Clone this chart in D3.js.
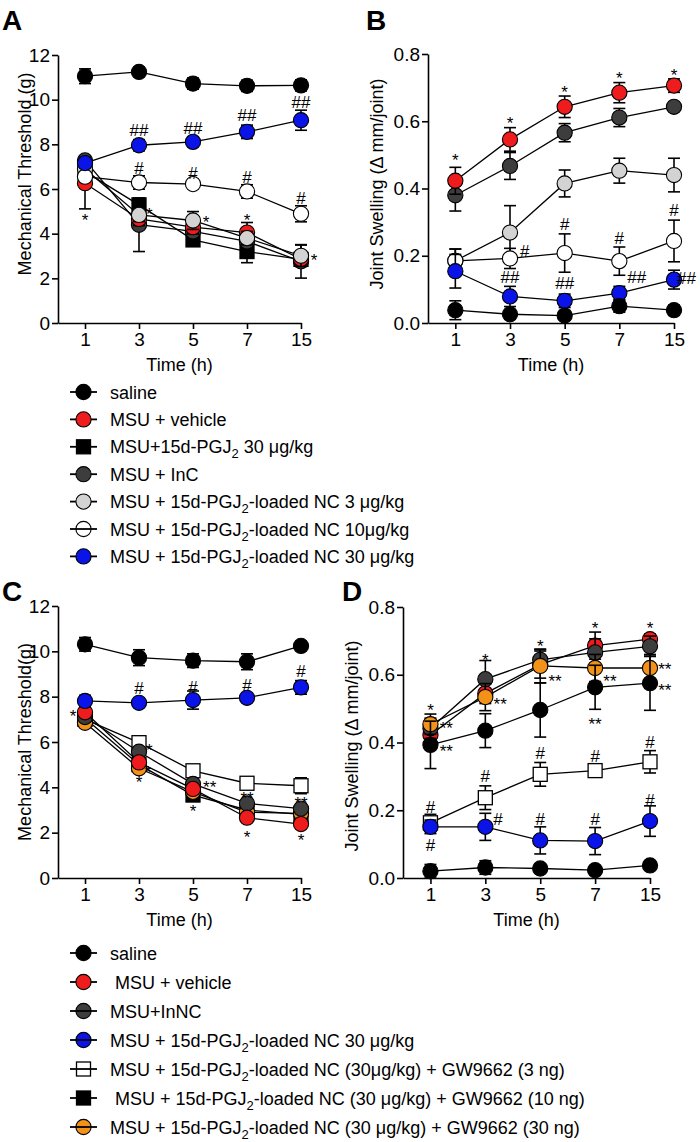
<!DOCTYPE html>
<html>
<head>
<meta charset="utf-8">
<script src="https://cdn.jsdelivr.net/npm/d3@7"></script>
<style>
body { margin: 0; background: #fff; }
svg text { font-family: Arial, "Liberation Sans", sans-serif; fill: #000; white-space: pre; }
</style>
</head>
<body>
<svg id="fig" width="700" height="1142"></svg>
<script>
// time points (x categories)
var times = ["1", "3", "5", "7", "15"];

// ---- panel A : mechanical threshold (g)
var salineA = [11.05, 11.24, 10.72, 10.62, 10.64], salineAErr = [0.33, 0.05, 0.25, 0.25, 0.25];
var vehicleA = [6.26, 4.66, 4.29, 4.05, 2.86], vehicleAErr = [1.15, 0.3, 0.3, 0.45, 0.2];
var pgjA = [6.78, 5.29, 3.72, 3.2, 2.85], pgjAErr = [0.3, 0.26, 0.26, 0.5, 0.2];
var incA = [7.28, 4.4, 4.1, 3.65, 2.76], incAErr = [0.2, 1.2, 0.3, 0.3, 0.75];
var nc3A = [6.9, 4.84, 4.59, 3.8, 3.01], nc3AErr = [0.3, 0.3, 0.4, 0.3, 0.48];
var nc10A = [6.55, 6.29, 6.22, 5.89, 4.89], nc10AErr = [0.2, 0.3, 0.1, 0.3, 0.36];
var nc30A = [7.16, 7.96, 8.11, 8.56, 9.08], nc30AErr = [0.15, 0.25, 0.1, 0.3, 0.45];

// ---- panel B : joint swelling
var salineB = [0.038, 0.026, 0.022, 0.05, 0.038], salineBErr = [0.028, 0.005, 0.005, 0.018, 0.015];
var vehicleB = [0.423, 0.546, 0.643, 0.685, 0.706], vehicleBErr = [0.04, 0.035, 0.032, 0.03, 0.02];
var incB = [0.38, 0.467, 0.566, 0.611, 0.643], incBErr = [0.047, 0.04, 0.027, 0.027, 0.005];
var nc3B = [0.185, 0.269, 0.415, 0.453, 0.44], nc3BErr = [0.035, 0.08, 0.04, 0.037, 0.05];
var nc10B = [0.185, 0.192, 0.208, 0.184, 0.244], nc10BErr = [0.035, 0.03, 0.057, 0.042, 0.062];
var nc30B = [0.154, 0.079, 0.066, 0.089, 0.129], nc30BErr = [0.05, 0.03, 0.02, 0.02, 0.028];

// ---- panel C : mechanical threshold (g)
var salineC = [10.31, 9.72, 9.59, 9.54, 10.24], salineCErr = [0.3, 0.35, 0.3, 0.35, 0.05];
var vehicleC = [7.31, 5.1, 3.93, 2.66, 2.38], vehicleCErr = [0.1, 0.1, 0.1, 0.1, 0.1];
var inncC = [7.1, 5.57, 4.15, 3.29, 3.06], inncCErr = [0.1, 0.1, 0.1, 0.1, 0.1];
var nc30C = [7.81, 7.73, 7.85, 7.95, 8.41], nc30CErr = [0.25, 0.05, 0.4, 0.1, 0.3];
var gw3C = [7.0, 5.97, 4.73, 4.18, 4.07], gw3CErr = [0.1, 0.1, 0.2, 0.1, 0.35];
var gw10C = [7.05, 5.0, 3.66, 3.0, 2.81], gw10CErr = [0.1, 0.1, 0.1, 0.1, 0.1];
var gw30C = [6.85, 4.84, 3.8, 2.9, 2.85], gw30CErr = [0.1, 0.1, 0.1, 0.1, 0.1];

// ---- panel D : joint swelling
var salineD = [0.02, 0.031, 0.028, 0.023, 0.037], salineDErr = [0.02, 0.02, 0.005, 0.005, 0.005];
var vehicleD = [0.422, 0.545, 0.63, 0.686, 0.705], vehicleDErr = [0.03, 0.03, 0.04, 0.04, 0.015];
var inncD = [0.442, 0.587, 0.644, 0.666, 0.684], inncDErr = [0.03, 0.055, 0.03, 0.04, 0.03];
var nc30D = [0.151, 0.151, 0.111, 0.109, 0.168], nc30DErr = [0.02, 0.04, 0.04, 0.04, 0.045];
var gw3D = [0.163, 0.237, 0.306, 0.317, 0.343], gw3DErr = [0.025, 0.035, 0.035, 0.01, 0.033];
var gw10D = [0.393, 0.435, 0.496, 0.563, 0.575], gw10DErr = [0.07, 0.05, 0.08, 0.065, 0.08];
var gw30D = [0.454, 0.534, 0.626, 0.62, 0.62], gw30DErr = [0.03, 0.04, 0.05, 0.04, 0.04];

// significance marks: [x index, y value, text]
var notesA = [[0, 4.77, "*"], [1.19, 5.02, "*"], [2.24, 4.66, "*"], [3, 4.75, "*"], [4.24, 2.97, "*"],
  [1, 6.95, "#"], [2, 6.72, "#"], [3, 6.54, "#"], [4, 5.6, "#"],
  [1, 8.64, "##"], [2, 8.73, "##"], [3, 9.31, "##"], [4, 9.9, "##"]];
var notesB = [[0, 0.494, "*"], [1, 0.604, "*"], [2, 0.696, "*"], [3, 0.738, "*"], [4, 0.747, "*"],
  [1.27, 0.214, "#"], [2, 0.295, "#"], [3, 0.253, "#"], [4, 0.336, "#"],
  [1, 0.137, "##"], [2, 0.119, "##"], [3.32, 0.137, "##"], [4.23, 0.134, "##"]];
var notesC = [[-0.22, 7.28, "*"], [1.19, 5.78, "*"], [1.17, 4.85, "*"], [1, 4.37, "*"], [2.31, 4.19, "**"],
  [2, 3.13, "*"], [3, 3.7, "**"], [3, 1.98, "*"], [4, 3.48, "**"], [4, 1.85, "*"],
  [1, 8.38, "#"], [2, 8.43, "#"], [3, 8.51, "#"], [4, 9.13, "#"]];
var notesD = [[0, 0.505, "*"], [0.29, 0.452, "**"], [0.29, 0.384, "**"], [1, 0.655, "*"], [1.27, 0.523, "**"],
  [2, 0.694, "*"], [2.27, 0.593, "**"], [3, 0.747, "*"], [3.27, 0.593, "**"], [3, 0.466, "**"],
  [4, 0.747, "*"], [4.27, 0.626, "**"], [4.27, 0.566, "**"],
  [0, 0.21, "#"], [0, 0.097, "#"], [1, 0.301, "#"], [1.23, 0.174, "#"], [2, 0.369, "#"], [3, 0.36, "#"],
  [4, 0.401, "#"], [2, 0.174, "#"], [3, 0.174, "#"], [4, 0.23, "#"]];

// legend labels ({2} = subscript)
var legendA = [["saline", "saline"], ["MSU + vehicle", "vehicle"], ["MSU+15d-PGJ{2} 30 μg/kg", "pgj"],
  ["MSU + InC", "inc"], ["MSU + 15d-PGJ{2}-loaded NC 3 μg/kg", "nc3"],
  ["MSU + 15d-PGJ{2}-loaded NC 10μg/kg", "nc10"], ["MSU + 15d-PGJ{2}-loaded NC 30 μg/kg", "nc30"]];
var legendC = [["saline", "saline"], [" MSU + vehicle", "vehicle"], ["MSU+InNC", "inc"],
  ["MSU + 15d-PGJ{2}-loaded NC 30 μg/kg", "nc30"],
  ["MSU + 15d-PGJ{2}-loaded NC (30μg/kg) + GW9662 (3 ng)", "gw3"],
  [" MSU + 15d-PGJ{2}-loaded NC (30 μg/kg) + GW9662 (10 ng)", "gw10"],
  ["MSU + 15d-PGJ{2}-loaded NC (30 μg/kg) + GW9662 (30 ng)", "gw30"]];

// marker look for each group
var look = {
  saline: {fill: "#000", shape: "circle"},
  vehicle: {fill: "#ee1c1c", shape: "circle"},
  pgj: {fill: "#000", shape: "square"},
  inc: {fill: "#3d3d3d", shape: "circle"},
  nc3: {fill: "#d3d3d3", shape: "circle"},
  nc10: {fill: "#fff", shape: "circle"},
  nc30: {fill: "#0a14e8", shape: "circle"},
  gw3: {fill: "#fff", shape: "square"},
  gw10: {fill: "#000", shape: "square"},
  gw30: {fill: "#f39219", shape: "circle"}
};

var svg = d3.select("#fig");

function marker(sel, key, cx, cy, shapeOverride) {
  var lk = look[key];
  var shape = shapeOverride || lk.shape;
  if (shape == "square") {
    sel.append("rect").attr("x", cx - 7).attr("y", cy - 7).attr("width", 14).attr("height", 14)
      .attr("fill", lk.fill).attr("stroke", "#000").attr("stroke-width", 1.3);
  } else {
    sel.append("circle").attr("cx", cx).attr("cy", cy).attr("r", 7.6)
      .attr("fill", lk.fill).attr("stroke", "#000").attr("stroke-width", 1.1);
  }
}

function drawPanel(p) {
  var x = d3.scaleLinear().domain([-0.5, times.length - 1]).range(p.xr);
  var y = d3.scaleLinear().domain(p.yd).range(p.yr);
  var g = svg.append("g");

  var xa = g.append("g").attr("transform", "translate(0," + p.yr[0] + ")")
    .call(d3.axisBottom(x).tickValues(d3.range(times.length)).tickFormat(function(i){ return times[i]; })
      .tickSize(6).tickSizeOuter(0).tickPadding(4));
  var ya = g.append("g").attr("transform", "translate(" + p.xr[0] + ",0)")
    .call(d3.axisLeft(y).tickValues(p.yt).tickFormat(p.fmt).tickSize(6).tickSizeOuter(0).tickPadding(2));
  [xa, ya].forEach(function(a){
    a.selectAll("path, line").attr("stroke", "#000").attr("stroke-width", 1.6);
    a.selectAll("text").attr("font-size", 19).attr("fill", "#000").style("font-family", null);
  });
  g.append("text").attr("x", (p.xr[0] + p.xr[1]) / 2).attr("y", p.yr[0] + 48)
    .attr("text-anchor", "middle").attr("font-size", 18).text("Time (h)");
  g.append("text").attr("transform", "translate(" + p.tx + "," + p.ty + ") rotate(-90)")
    .attr("text-anchor", "middle").attr("font-size", 18).text(p.title);
  g.append("text").attr("x", p.lx).attr("y", p.ly).attr("font-size", 28).attr("font-weight", "bold").text(p.id);

  var line = d3.line().x(function(d, i){ return x(i); }).y(function(d){ return y(d); });
  p.series.forEach(function(s){
    var sg = g.append("g");
    s.v.forEach(function(v, i){
      var e = s.e[i];
      sg.append("line").attr("x1", x(i)).attr("x2", x(i)).attr("y1", y(v - e)).attr("y2", y(v + e))
        .attr("stroke", "#000").attr("stroke-width", 1.6);
      [v - e, v + e].forEach(function(c){
        sg.append("line").attr("x1", x(i) - 6).attr("x2", x(i) + 6).attr("y1", y(c)).attr("y2", y(c))
          .attr("stroke", "#000").attr("stroke-width", 1.6);
      });
    });
    sg.append("path").attr("d", line(s.v)).attr("fill", "none").attr("stroke", "#000").attr("stroke-width", 1.3);
    s.v.forEach(function(v, i){ marker(sg, s.key, x(i), y(v), s.shape); });
  });

  p.notes.forEach(function(n){
    var off = n[2].charAt(0) == "*" ? 9.5 : 6;
    g.append("text").attr("x", x(n[0])).attr("y", y(n[1]) + off).attr("text-anchor", "middle")
      .attr("font-size", 17).text(n[2]);
  });
}

function richText(t, str) {
  var sub = false;
  str.split(/(\{2\})/).forEach(function(part){
    if (part == "") return;
    if (part == "{2}") {
      t.append("tspan").attr("font-size", 13).attr("dy", 5).text("2");
      sub = true;
    } else {
      var ts = t.append("tspan").text(part);
      if (sub) { ts.attr("dy", -5); sub = false; }
    }
  });
}

function drawLegend(items, y0, step, through) {
  var g = svg.append("g");
  items.forEach(function(it, i){
    var cy = y0 + i * step;
    var row = g.append("g");
    var ln = function(){ row.append("line").attr("x1", 70).attr("x2", 97).attr("y1", cy).attr("y2", cy)
      .attr("stroke", "#000").attr("stroke-width", 1.8); };
    if (through.indexOf(it[1]) < 0) { ln(); marker(row, it[1], 83.5, cy); }
    else { marker(row, it[1], 83.5, cy); ln(); }
    var t = row.append("text").attr("x", 110).attr("y", cy + 6.5).attr("font-size", 18);
    richText(t, it[0]);
  });
}

var fmtInt = d3.format("d"), fmtDec = d3.format(".1f");

drawPanel({id: "A", xr: [58, 301], yr: [323, 55], yd: [0, 12], yt: d3.range(0, 13, 2), fmt: fmtInt,
  title: "Mechanical Threshold (g)", tx: 31, ty: 174, lx: 2, ly: 30, notes: notesA,
  series: [
    {key: "pgj", v: pgjA, e: pgjAErr},
    {key: "inc", v: incA, e: incAErr},
    {key: "vehicle", v: vehicleA, e: vehicleAErr},
    {key: "nc3", v: nc3A, e: nc3AErr},
    {key: "nc10", v: nc10A, e: nc10AErr},
    {key: "nc30", v: nc30A, e: nc30AErr},
    {key: "saline", v: salineA, e: salineAErr}
  ]});

drawPanel({id: "B", xr: [428, 674], yr: [323, 54], yd: [0, 0.8], yt: d3.range(0, 0.81, 0.2), fmt: fmtDec,
  title: "Joint Swelling (Δ mm/joint)", tx: 383, ty: 184, lx: 366, ly: 30, notes: notesB,
  series: [
    {key: "inc", v: incB, e: incBErr},
    {key: "vehicle", v: vehicleB, e: vehicleBErr},
    {key: "nc3", v: nc3B, e: nc3BErr},
    {key: "nc10", v: nc10B, e: nc10BErr},
    {key: "nc30", v: nc30B, e: nc30BErr},
    {key: "saline", v: salineB, e: salineBErr}
  ]});

drawPanel({id: "C", xr: [58, 301], yr: [878, 606], yd: [0, 12], yt: d3.range(0, 13, 2), fmt: fmtInt,
  title: "Mechanical Threshold(g)", tx: 31, ty: 742, lx: 2, ly: 601, notes: notesC,
  series: [
    {key: "gw10", v: gw10C, e: gw10CErr},
    {key: "gw3", v: gw3C, e: gw3CErr},
    {key: "gw30", v: gw30C, e: gw30CErr},
    {key: "inc", v: inncC, e: inncCErr},
    {key: "vehicle", v: vehicleC, e: vehicleCErr},
    {key: "nc30", v: nc30C, e: nc30CErr},
    {key: "saline", v: salineC, e: salineCErr}
  ]});

drawPanel({id: "D", xr: [403, 650], yr: [878, 607], yd: [0, 0.8], yt: d3.range(0, 0.81, 0.2), fmt: fmtDec,
  title: "Joint Swelling (Δ mm/joint)", tx: 358, ty: 746, lx: 342, ly: 601, notes: notesD,
  series: [
    {key: "vehicle", v: vehicleD, e: vehicleDErr},
    {key: "inc", v: inncD, e: inncDErr},
    {key: "gw30", v: gw30D, e: gw30DErr},
    {key: "gw10", v: gw10D, e: gw10DErr, shape: "circle"},
    {key: "gw3", v: gw3D, e: gw3DErr},
    {key: "nc30", v: nc30D, e: nc30DErr},
    {key: "saline", v: salineD, e: salineDErr}
  ]});

drawLegend(legendA, 392, 27.4, ["nc10"]);
drawLegend(legendC, 953, 29, ["inc", "nc30", "gw3", "gw30"]);
</script>
</body>
</html>
